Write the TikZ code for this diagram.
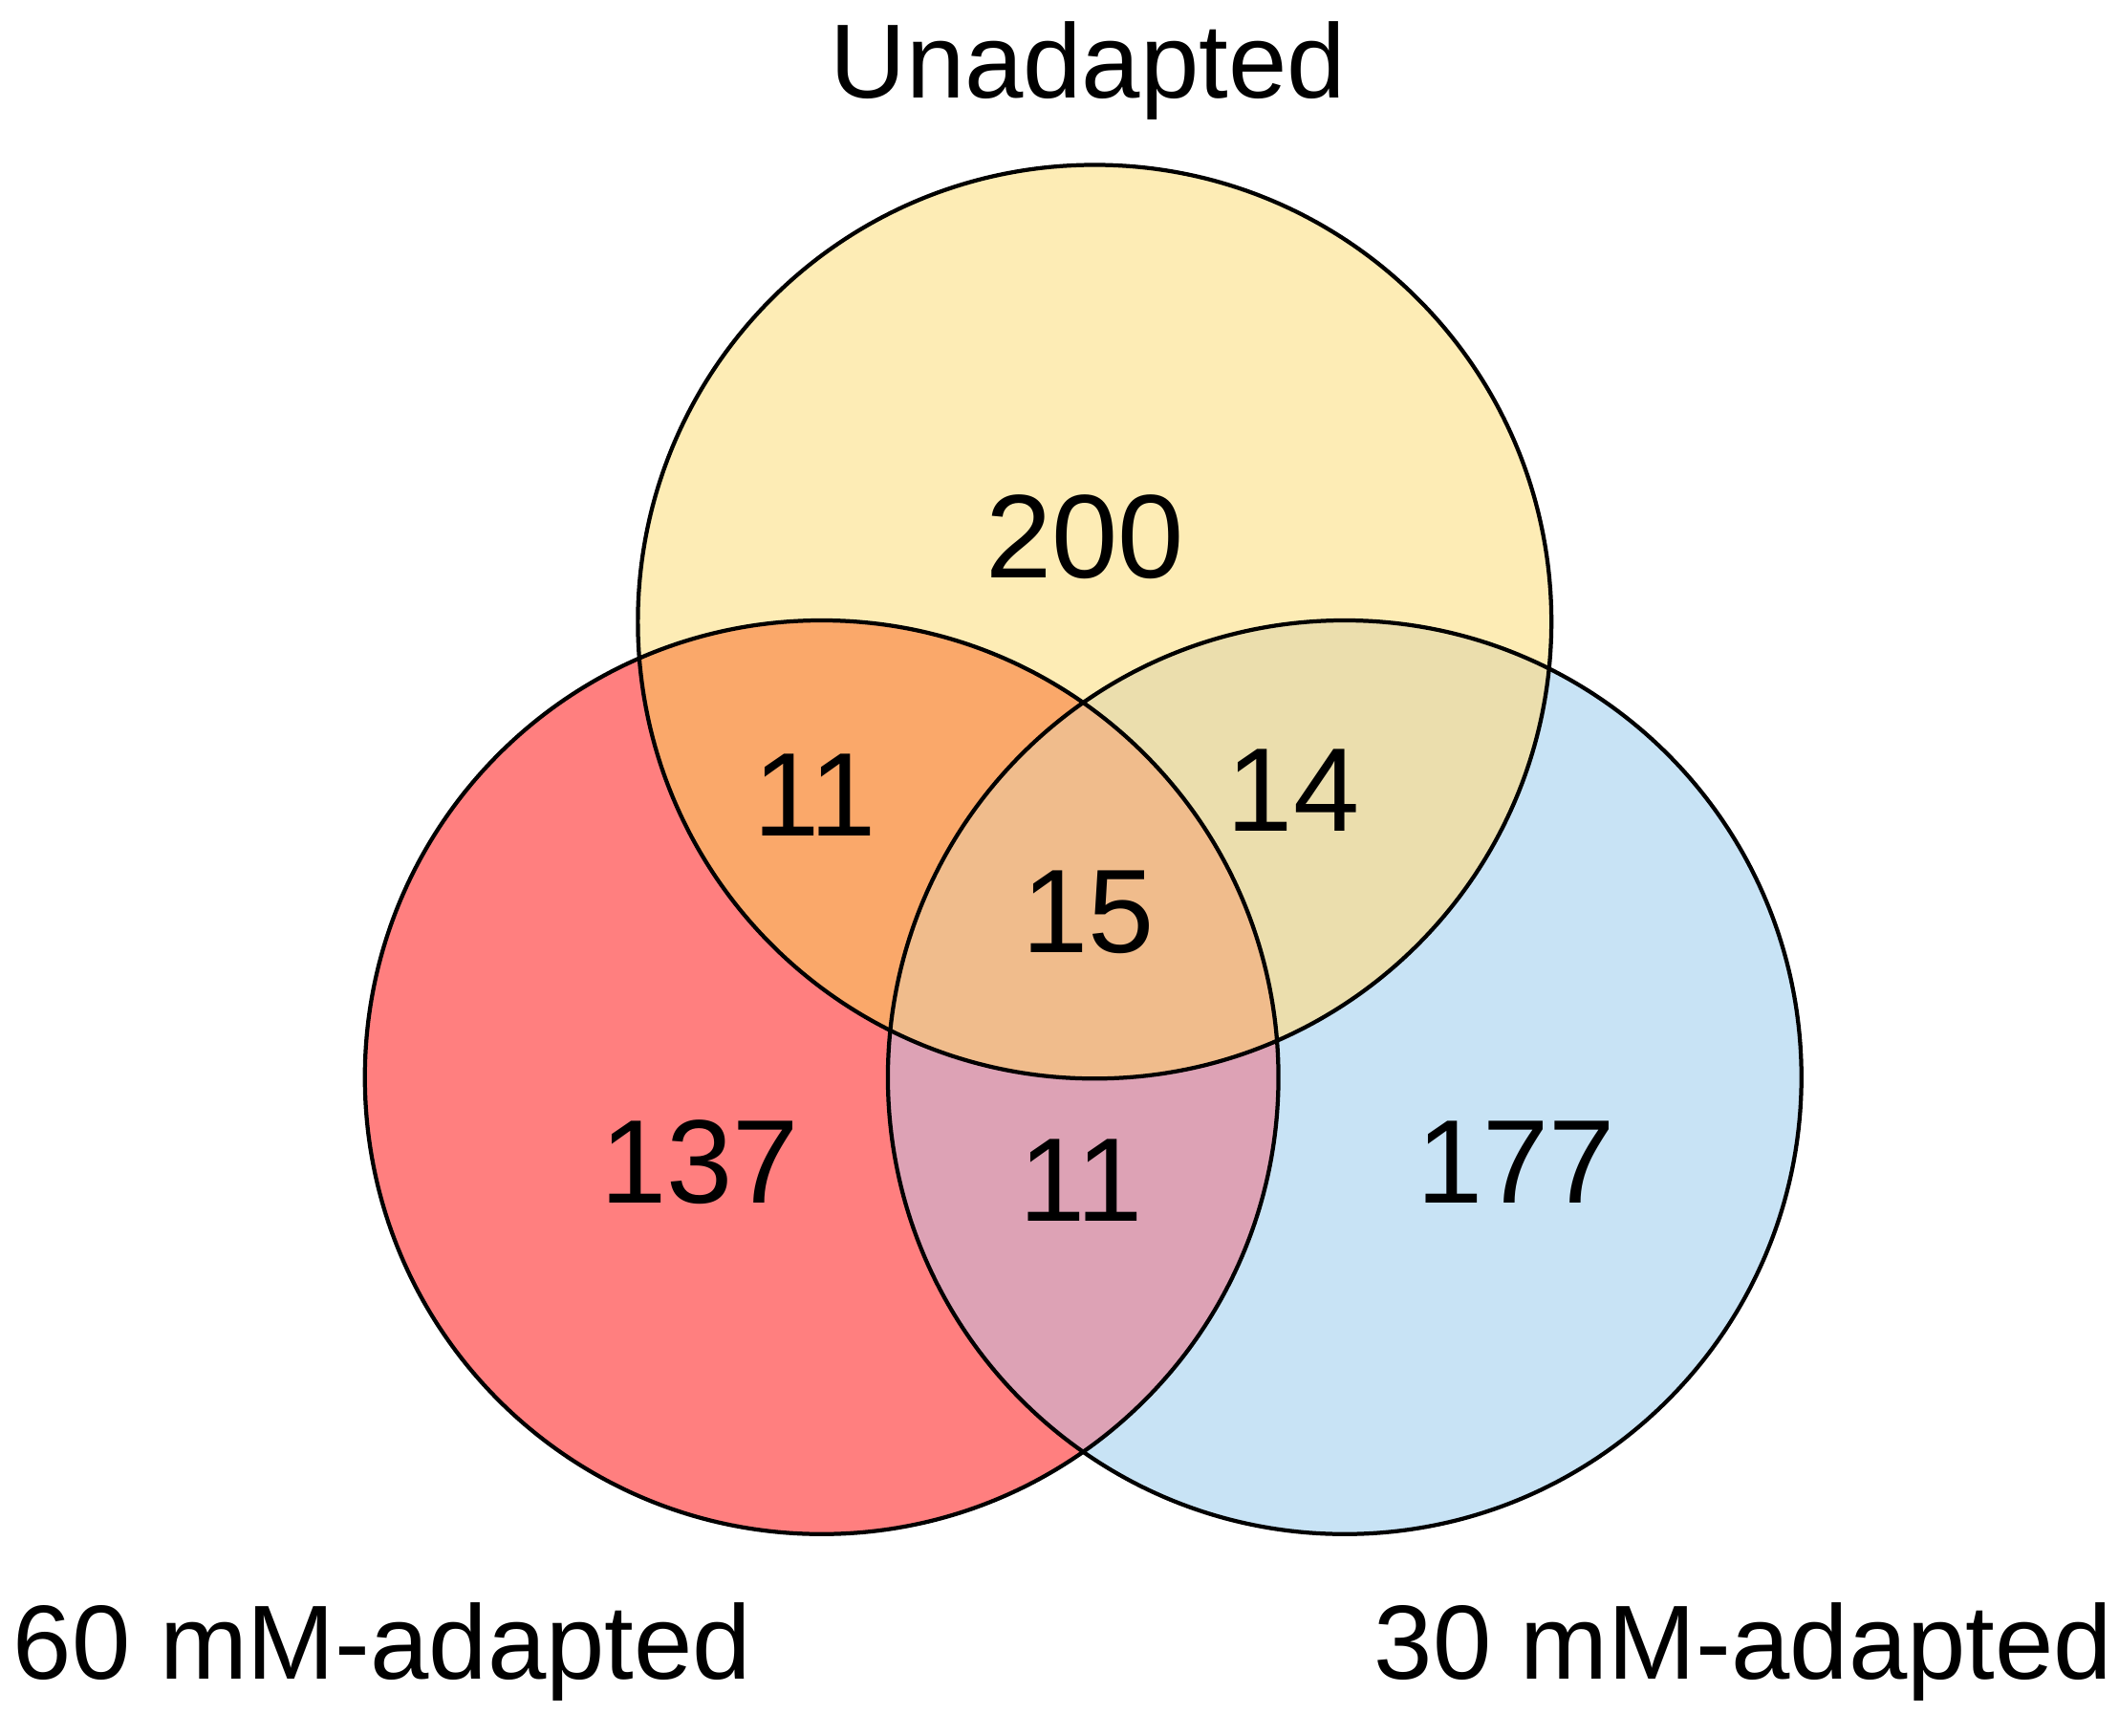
\documentclass[tikz,border=0pt]{standalone}
\usepackage{fontspec}
\setmainfont{Liberation Sans}
\definecolor{cL}{HTML}{FF7F7F}
\definecolor{cR}{HTML}{C8E3F5}
\definecolor{cT}{HTML}{FDECB5}
\definecolor{cTL}{HTML}{FAA86A}
\definecolor{cTR}{HTML}{EBDEAD}
\definecolor{cLR}{HTML}{DDA2B5}
\definecolor{cA}{HTML}{F0BC8C}
\begin{document}
\begin{tikzpicture}[x=1pt,y=-1pt,
  num/.style={font=\fontsize{88}{90}\selectfont},
  lab/.style={font=\fontsize{78}{80}\selectfont},
  ring/.style={draw=black,line width=3pt}]
\useasboundingbox (0,0) rectangle (1568,1284);
\def\T{(810,460) circle[radius=338]}
\def\L{(608,797) circle[radius=338]}
\def\R{(995,797) circle[radius=338]}
\fill[cL] \L; \fill[cR] \R; \fill[cT] \T;
\begin{scope}\clip \T; \fill[cTL] \L; \fill[cTR] \R;\end{scope}
\begin{scope}\clip \L; \fill[cLR] \R;\end{scope}
\begin{scope}\clip \T; \clip \L; \fill[cA] \R;\end{scope}
\draw[ring] \L; \draw[ring] \R; \draw[ring] \T;
\node[lab] (u) at (805,52) {Unadapted};
\node[lab] (s) at (283,1222) {60 mM-adapted};
\node[lab] (t) at (1290,1222) {30 mM-adapted};
\node[num] (a) at (803,397) {200};
\node[num] (b) at (603,588) {11};
\node[num] (c) at (957,585) {14};
\node[num] (d) at (805,675) {15};
\node[num] (e) at (518,860) {137};
\node[num] (f) at (800,873) {11};
\node[num] (g) at (1122,860) {177};
\end{tikzpicture}
\end{document}
